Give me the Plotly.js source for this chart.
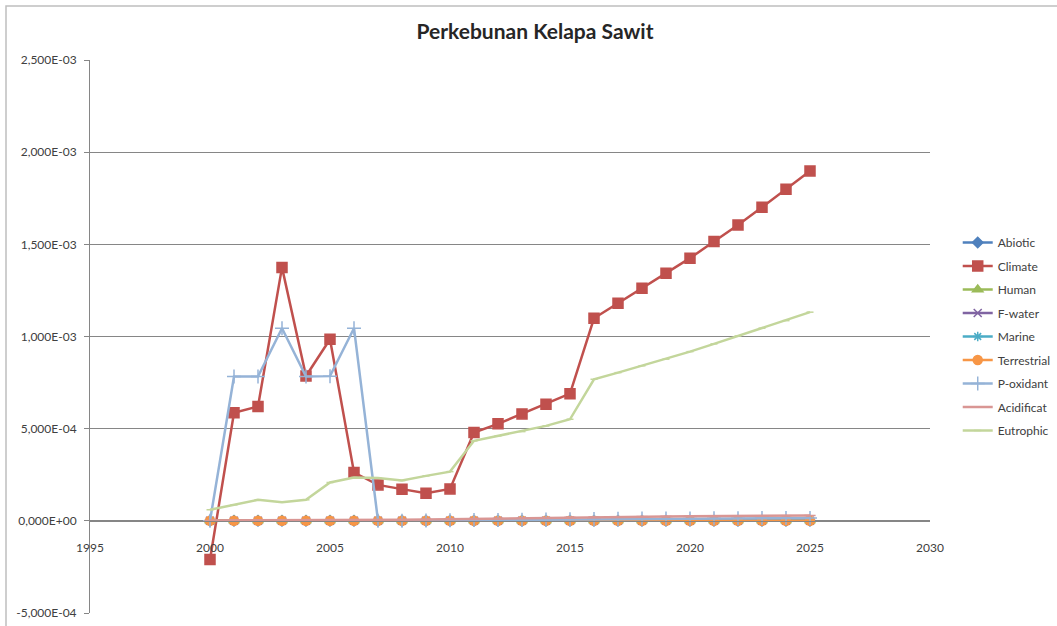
<!DOCTYPE html>
<html>
<head>
<meta charset="utf-8">
<script src="https://cdn.plot.ly/plotly-3.0.1.min.js"></script>
<style>html,body{margin:0;padding:0;background:#fff;}#chart{width:1057px;height:626px;}</style>
</head>
<body>
<div id="chart"></div>
<script>
const years = [2000,2001,2002,2003,2004,2005,2006,2007,2008,2009,2010,2011,2012,2013,2014,2015,2016,2017,2018,2019,2020,2021,2022,2023,2024,2025];

const abiotic     = [0,0,0,0,0,0,0,0,0,0,0,0,0,0,0,0,0,0,0,0,0,0,0,0,0,0];
const climate     = [-2.10e-4,5.86e-4,6.20e-4,1.375e-3,7.86e-4,9.85e-4,2.62e-4,1.95e-4,1.72e-4,1.50e-4,1.73e-4,4.79e-4,5.26e-4,5.80e-4,6.33e-4,6.90e-4,1.099e-3,1.181e-3,1.262e-3,1.343e-3,1.425e-3,1.515e-3,1.605e-3,1.701e-3,1.799e-3,1.898e-3];
const human       = [0,0,0,0,0,0,0,0,0,0,0,0,0,0,0,0,0,0,0,0,0,0,0,0,0,0];
const fwater      = [0,0,0,0,0,0,0,0,0,0,0,0,0,0,0,0,0,0,0,0,0,0,0,0,0,0];
const marine      = [0,0,0,0,0,0,0,0,0,0,0,0,0,0,0,0,0,0,0,0,0,0,0,0,0,0];
const terrestrial = [0,0,0,0,0,0,0,0,0,0,0,0,0,0,0,0,0,0,0,0,0,0,0,0,0,0];
const poxidant    = [0,7.83e-4,7.83e-4,1.045e-3,7.83e-4,7.85e-4,1.045e-3,0,1e-6,2e-6,3e-6,4e-6,5e-6,6e-6,7e-6,8e-6,1.0e-5,1.1e-5,1.2e-5,1.3e-5,1.3e-5,1.4e-5,1.4e-5,1.5e-5,1.5e-5,1.6e-5];
const acidificat  = [2e-6,2e-6,2e-6,2e-6,2e-6,2e-6,2e-6,5e-6,6e-6,7e-6,9e-6,1.1e-5,1.2e-5,1.4e-5,1.7e-5,1.9e-5,2.1e-5,2.2e-5,2.3e-5,2.4e-5,2.5e-5,2.5e-5,2.6e-5,2.7e-5,2.8e-5,2.9e-5];
const eutrophic   = [6.0e-5,8.7e-5,1.14e-4,1.01e-4,1.14e-4,2.08e-4,2.35e-4,2.32e-4,2.19e-4,2.44e-4,2.67e-4,4.34e-4,4.61e-4,4.84e-4,5.15e-4,5.51e-4,7.68e-4,8.04e-4,8.41e-4,8.77e-4,9.18e-4,9.60e-4,1.003e-3,1.045e-3,1.086e-3,1.132e-3];

const seriesNames = ['Abiotic','Climate','Human','F-water','Marine','Terrestrial','P-oxidant','Acidificat','Eutrophic'];
const yTickVals = [-5e-4,0,5e-4,1e-3,1.5e-3,2e-3,2.5e-3];
const yTickText = ['-5,000E-04','0,000E+00','5,000E-04','1,000E-03','1,500E-03','2,000E-03','2,500E-03'];
const xTickVals = [1995,2000,2005,2010,2015,2020,2025,2030];
const xTickText = ['1995','2000','2005','2010','2015','2020','2025','2030'];

const FONT = 'Lato, "Open Sans", sans-serif';
const styles = [
  {color:'#4F81BD', symbol:'diamond', size:8},
  {color:'#C0504D', symbol:'square', size:10},
  {color:'#9BBB59', symbol:'triangle-up', size:9},
  {color:'#8064A2', symbol:'x-thin-open', size:8},
  {color:'#4BACC6', symbol:'asterisk-open', size:8},
  {color:'#F79646', symbol:'circle', size:9},
  {color:'#95B3D7', symbol:'cross-thin-open', size:10},
  {color:'#D99694', symbol:'line-ew-open', size:8},
  {color:'#C3D69B', symbol:'line-ew-open', size:5}
];
const dataArr = [abiotic, climate, human, fwater, marine, terrestrial, poxidant, acidificat, eutrophic];

const traces = dataArr.map((vals, i) => {
  const s = styles[i];
  return {
    x: years, y: vals, name: seriesNames[i], legendgroup: seriesNames[i],
    type: 'scatter', mode: 'lines+markers',
    line: {color: s.color, width: 2.5},
    marker: {symbol: s.symbol, size: s.size, color: s.color, line: {color: s.color, width: 1.5}}
  };
});

const yMin = -5e-4, yMax = 2.5e-3;
const layout = {
  width: 1057, height: 626,
  margin: {l: 90, r: 127, t: 60, b: 13, autoexpand: false},
  paper_bgcolor: '#ffffff', plot_bgcolor: '#ffffff',
  font: {family: FONT, size: 12, color: '#404040'},
  title: {text: 'Perkebunan Kelapa Sawit', font: {family: FONT, size: 21, color: '#262626', weight: 'bold'},
          x: 535/1057, xanchor: 'center', y: 1 - 32/626, yanchor: 'middle'},
  xaxis: {
    range: [1995, 2030], tickvals: xTickVals, ticktext: xTickText,
    showgrid: false, zeroline: false, showline: true, linecolor: '#868686', linewidth: 1,
    anchor: 'free', position: (0 - yMin) / (yMax - yMin),
    ticks: 'outside', ticklen: 6, tickcolor: 'rgba(0,0,0,0)', ticklabelstandoff: 10,
    tickfont: {family: FONT, size: 12, color: '#404040'}
  },
  yaxis: {
    range: [yMin, yMax], tickvals: yTickVals, ticktext: yTickText,
    showgrid: true, gridcolor: '#868686', gridwidth: 1, zeroline: false,
    showline: true, linecolor: '#868686', linewidth: 1,
    ticks: 'outside', ticklen: 5, tickcolor: '#868686', ticklabelstandoff: 5,
    tickfont: {family: FONT, size: 12, color: '#404040'}
  },
  legend: {
    x: 1.033, xanchor: 'left', y: 0.5, yanchor: 'middle',
    traceorder: 'grouped', tracegroupgap: 4.5,
    font: {family: FONT, size: 12, color: '#404040'},
    bgcolor: 'rgba(0,0,0,0)'
  },
  shapes: [
    {type: 'rect', xref: 'paper', yref: 'paper',
     x0: (6 - 90) / 840, x1: (1070 - 90) / 840, y0: (613 - 640) / 553, y1: (613 - 6) / 553,
     line: {color: '#BFBFBF', width: 1.5}, fillcolor: 'rgba(0,0,0,0)', layer: 'below'}
  ],
  showlegend: true
};

Plotly.newPlot('chart', traces, layout, {displayModeBar: false, staticPlot: true});
</script>
</body>
</html>
